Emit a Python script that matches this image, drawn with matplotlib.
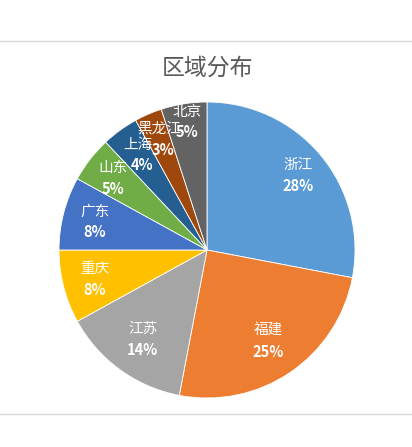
import numpy as np
import matplotlib
matplotlib.use('Agg')
import matplotlib.pyplot as plt
from matplotlib.lines import Line2D

plt.rcParams['font.family'] = ['Noto Sans CJK SC', 'DejaVu Sans']

# data
regions = ['浙江', '福建', '江苏', '重庆', '广东', '山东', '上海', '黑龙江', '北京']
shares = [28, 25, 14, 8, 8, 5, 4, 3, 5]
colors = ['#5B9BD5', '#ED7D31', '#A5A5A5', '#FFC000', '#4472C4',
          '#70AD47', '#255E91', '#9E480E', '#636363']

W, H = 412, 447
fig = plt.figure(figsize=(W / 100, H / 100), dpi=100)
fig.patch.set_facecolor('white')

# thin separators top and bottom
for yp in (41, 414):
    fig.add_artist(Line2D([0, 1], [1 - yp / H, 1 - yp / H], color='#d9d9d9', lw=1.0))

fig.text(207 / W, 1 - 68 / H, '区域分布', ha='center', va='center',
         fontsize=16.5, color='#595959')

# pie axes: center (207, 250), radius 148 px
cx, cy, R = 207, 250, 148
ax = fig.add_axes([(cx - R) / W, 1 - (cy + R) / H, 2 * R / W, 2 * R / H])
wedges, _ = ax.pie(shares, colors=colors, startangle=90, counterclock=False,
                   radius=1.0, wedgeprops=dict(edgecolor='white', linewidth=0.6))
ax.set_xlim(-1, 1)
ax.set_ylim(-1, 1)
ax.set_aspect('auto')
ax.axis('off')

label_r = [0.80, 0.74, 0.74, 0.78, 0.78, 0.80, 0.80, 0.82, 0.88]
for w, name, val, r in zip(wedges, regions, shares, label_r):
    ang = np.deg2rad((w.theta1 + w.theta2) / 2)
    x, y = r * np.cos(ang), r * np.sin(ang)
    ax.text(x, y + 0.065, name, ha='center', va='center', color='white', fontsize=10.5)
    ax.text(x + 0.03 if val <= 4 else x, y - 0.075, f'{val}%', ha='center', va='center',
            color='white', fontsize=10.5, fontweight='bold')

fig.savefig('out.png', dpi=100)
